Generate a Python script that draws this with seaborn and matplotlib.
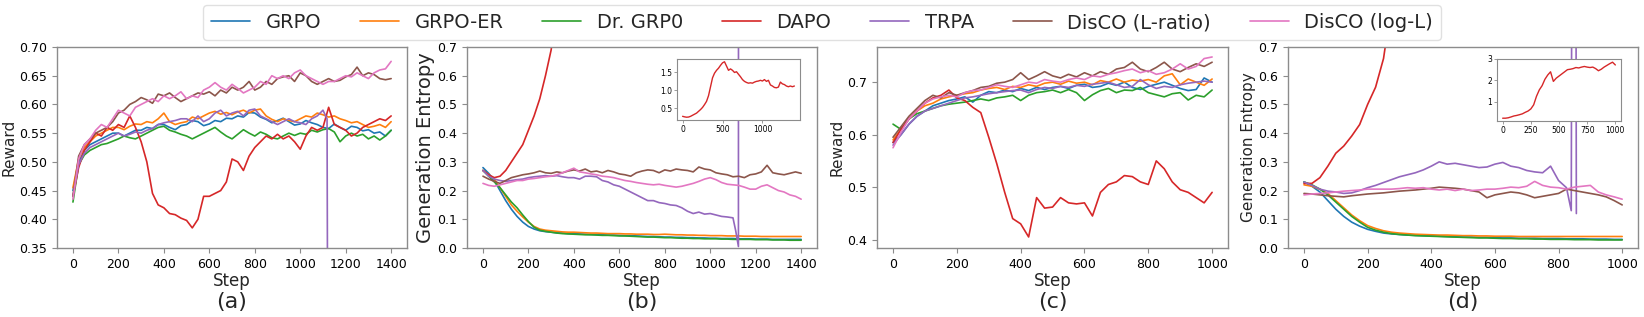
import numpy as np
import pandas as pd
import matplotlib
matplotlib.use("Agg")
import matplotlib.pyplot as plt
import seaborn as sns

# Data

methods = ["GRPO", "GRPO-ER", "Dr. GRP0", "DAPO", "TRPA", "DisCO (L-ratio)", "DisCO (log-L)"]
colors = ["#1f77b4", "#ff7f0e", "#2ca02c", "#d62728", "#9467bd", "#8c564b", "#e377c2"]

steps_1400 = list(range(0, 1401, 25))
steps_1000 = list(range(0, 1001, 25))

# (a) reward, 1400 steps
grpo_a = [0.450, 0.500, 0.520, 0.530, 0.535, 0.540, 0.545, 0.550, 0.550, 0.545, 0.550, 0.555,
          0.555, 0.560, 0.558, 0.565, 0.565, 0.560, 0.556, 0.563, 0.565, 0.572, 0.570, 0.563,
          0.566, 0.572, 0.570, 0.576, 0.575, 0.580, 0.578, 0.586, 0.585, 0.578, 0.574, 0.568,
          0.572, 0.576, 0.570, 0.564, 0.566, 0.572, 0.568, 0.565, 0.560, 0.558, 0.566, 0.560,
          0.555, 0.562, 0.560, 0.554, 0.556, 0.550, 0.552, 0.545, 0.555]
grpo_er_a = [0.455, 0.505, 0.525, 0.535, 0.545, 0.550, 0.555, 0.560, 0.560, 0.556, 0.562, 0.566,
             0.565, 0.570, 0.568, 0.575, 0.585, 0.570, 0.565, 0.568, 0.570, 0.578, 0.575, 0.580,
             0.585, 0.588, 0.583, 0.586, 0.582, 0.587, 0.590, 0.585, 0.590, 0.592, 0.580, 0.574,
             0.570, 0.575, 0.572, 0.570, 0.575, 0.580, 0.578, 0.585, 0.582, 0.578, 0.580, 0.575,
             0.572, 0.568, 0.570, 0.565, 0.560, 0.562, 0.565, 0.560, 0.570]
drgrpo_a = [0.430, 0.495, 0.512, 0.520, 0.525, 0.530, 0.532, 0.536, 0.540, 0.545, 0.542, 0.540,
            0.545, 0.550, 0.555, 0.560, 0.562, 0.555, 0.552, 0.548, 0.545, 0.540, 0.545, 0.550,
            0.555, 0.560, 0.552, 0.545, 0.540, 0.548, 0.556, 0.550, 0.545, 0.552, 0.548, 0.542,
            0.540, 0.545, 0.550, 0.546, 0.550, 0.548, 0.555, 0.552, 0.556, 0.558, 0.552, 0.535,
            0.545, 0.550, 0.545, 0.548, 0.540, 0.545, 0.538, 0.545, 0.555]
dapo_a = [0.440, 0.490, 0.520, 0.535, 0.550, 0.545, 0.560, 0.555, 0.565, 0.560, 0.580, 0.560,
          0.535, 0.500, 0.445, 0.425, 0.420, 0.410, 0.408, 0.402, 0.398, 0.385, 0.400, 0.440,
          0.440, 0.445, 0.450, 0.465, 0.505, 0.500, 0.485, 0.510, 0.525, 0.535, 0.545, 0.540,
          0.548, 0.540, 0.545, 0.535, 0.522, 0.545, 0.560, 0.555, 0.560, 0.595, 0.565, 0.560,
          0.555, 0.545, 0.550, 0.560, 0.565, 0.570, 0.575, 0.572, 0.580]
trpa_a_steps = list(range(0, 1101, 25)) + [1118, 1122]
trpa_a = [0.440, 0.495, 0.515, 0.525, 0.530, 0.535, 0.540, 0.545, 0.550, 0.545, 0.548, 0.552,
          0.550, 0.555, 0.558, 0.565, 0.568, 0.570, 0.572, 0.575, 0.575, 0.570, 0.580, 0.570,
          0.575, 0.585, 0.590, 0.580, 0.585, 0.588, 0.580, 0.590, 0.592, 0.580, 0.575, 0.570,
          0.565, 0.570, 0.575, 0.570, 0.568, 0.565, 0.575, 0.580, 0.590, 0.575, 0.0]
lratio_a = [0.440, 0.510, 0.530, 0.540, 0.550, 0.555, 0.560, 0.570, 0.585, 0.590, 0.600, 0.605,
            0.612, 0.608, 0.602, 0.618, 0.615, 0.620, 0.612, 0.605, 0.610, 0.615, 0.620, 0.618,
            0.622, 0.615, 0.625, 0.620, 0.630, 0.625, 0.630, 0.640, 0.625, 0.630, 0.640, 0.635,
            0.645, 0.648, 0.650, 0.640, 0.655, 0.650, 0.640, 0.635, 0.640, 0.645, 0.640, 0.642,
            0.648, 0.652, 0.665, 0.650, 0.655, 0.652, 0.645, 0.643, 0.645]
logl_a = [0.435, 0.505, 0.530, 0.540, 0.555, 0.565, 0.560, 0.575, 0.590, 0.585, 0.580, 0.595,
          0.600, 0.605, 0.610, 0.605, 0.615, 0.610, 0.615, 0.622, 0.610, 0.615, 0.612, 0.625,
          0.630, 0.638, 0.630, 0.625, 0.635, 0.628, 0.620, 0.625, 0.630, 0.640, 0.635, 0.650,
          0.645, 0.650, 0.645, 0.655, 0.660, 0.650, 0.645, 0.640, 0.635, 0.640, 0.640, 0.645,
          0.650, 0.648, 0.655, 0.650, 0.645, 0.655, 0.660, 0.662, 0.675]

# (b) entropy, 1400 steps
grpo_b = [0.280, 0.260, 0.235, 0.200, 0.165, 0.135, 0.110, 0.090, 0.075, 0.066, 0.060, 0.057,
          0.055, 0.053, 0.052, 0.050, 0.050, 0.049, 0.048, 0.047, 0.047, 0.046, 0.045, 0.045,
          0.044, 0.043, 0.043, 0.042, 0.041, 0.040, 0.040, 0.039, 0.038, 0.038, 0.037, 0.037,
          0.036, 0.036, 0.035, 0.035, 0.034, 0.034, 0.033, 0.033, 0.033, 0.032, 0.032, 0.032,
          0.031, 0.031, 0.031, 0.030, 0.030, 0.030, 0.030, 0.030, 0.030]
grpo_er_b = [0.270, 0.255, 0.240, 0.210, 0.180, 0.150, 0.128, 0.108, 0.090, 0.075, 0.066, 0.062,
             0.060, 0.058, 0.056, 0.055, 0.055, 0.054, 0.053, 0.052, 0.052, 0.051, 0.050, 0.050,
             0.050, 0.049, 0.049, 0.048, 0.048, 0.048, 0.047, 0.047, 0.048, 0.047, 0.046, 0.046,
             0.045, 0.045, 0.044, 0.044, 0.043, 0.043, 0.043, 0.042, 0.042, 0.042, 0.041, 0.041,
             0.041, 0.040, 0.040, 0.040, 0.040, 0.040, 0.040, 0.040, 0.040]
drgrpo_b = [0.270, 0.250, 0.230, 0.210, 0.185, 0.160, 0.140, 0.115, 0.092, 0.072, 0.062, 0.058,
            0.055, 0.052, 0.050, 0.049, 0.048, 0.047, 0.046, 0.046, 0.045, 0.044, 0.044, 0.043,
            0.042, 0.042, 0.041, 0.040, 0.039, 0.038, 0.038, 0.037, 0.036, 0.036, 0.035, 0.034,
            0.034, 0.033, 0.033, 0.032, 0.032, 0.032, 0.031, 0.031, 0.030, 0.030, 0.030, 0.030,
            0.029, 0.029, 0.029, 0.028, 0.028, 0.028, 0.027, 0.027, 0.027]
dapo_b = [0.270, 0.255, 0.245, 0.250, 0.270, 0.300, 0.330, 0.360, 0.410, 0.460, 0.520, 0.600,
          0.690, 0.850, 1.100, 1.350, 1.480, 1.560, 1.620, 1.700, 1.770, 1.800, 1.680, 1.560,
          1.600, 1.560, 1.500, 1.520, 1.450, 1.380, 1.300, 1.250, 1.220, 1.200, 1.210, 1.200,
          1.230, 1.250, 1.260, 1.280, 1.260, 1.300, 1.250, 1.280, 1.150, 1.120, 1.080, 1.070,
          1.090, 1.230, 1.180, 1.160, 1.120, 1.100, 1.120, 1.100, 1.120]
trpa_b_steps = list(range(0, 1101, 25)) + [1112, 1124, 1127]
trpa_b = [0.270, 0.250, 0.240, 0.235, 0.232, 0.235, 0.238, 0.240, 0.245, 0.248, 0.250, 0.252,
          0.250, 0.252, 0.248, 0.245, 0.245, 0.240, 0.250, 0.250, 0.248, 0.235, 0.230, 0.220,
          0.215, 0.205, 0.195, 0.185, 0.175, 0.165, 0.165, 0.158, 0.155, 0.150, 0.148, 0.140,
          0.128, 0.120, 0.125, 0.118, 0.120, 0.115, 0.110, 0.108, 0.105, 0.060, 0.005, 10.0]
lratio_b = [0.250, 0.240, 0.232, 0.225, 0.235, 0.245, 0.250, 0.255, 0.258, 0.262, 0.268, 0.262,
            0.260, 0.265, 0.262, 0.268, 0.272, 0.268, 0.275, 0.265, 0.268, 0.262, 0.270, 0.265,
            0.258, 0.255, 0.250, 0.262, 0.268, 0.272, 0.270, 0.262, 0.272, 0.268, 0.275, 0.272,
            0.270, 0.265, 0.282, 0.275, 0.272, 0.262, 0.258, 0.255, 0.248, 0.250, 0.245, 0.255,
            0.258, 0.265, 0.288, 0.262, 0.258, 0.255, 0.260, 0.265, 0.260]
logl_b = [0.225, 0.218, 0.215, 0.220, 0.225, 0.230, 0.235, 0.235, 0.240, 0.242, 0.245, 0.248,
          0.250, 0.255, 0.262, 0.270, 0.278, 0.265, 0.262, 0.258, 0.255, 0.250, 0.248, 0.245,
          0.240, 0.235, 0.232, 0.228, 0.225, 0.222, 0.220, 0.222, 0.218, 0.215, 0.212, 0.215,
          0.220, 0.225, 0.232, 0.240, 0.245, 0.238, 0.228, 0.222, 0.220, 0.218, 0.212, 0.205,
          0.205, 0.215, 0.220, 0.210, 0.200, 0.195, 0.185, 0.180, 0.170]

# (c) reward, 1000 steps
grpo_c = [0.585, 0.600, 0.620, 0.635, 0.645, 0.655, 0.660, 0.665, 0.668, 0.672, 0.662, 0.675,
          0.682, 0.680, 0.685, 0.682, 0.688, 0.684, 0.690, 0.686, 0.690, 0.692, 0.688, 0.694,
          0.696, 0.690, 0.692, 0.698, 0.694, 0.700, 0.690, 0.686, 0.692, 0.696, 0.700, 0.694,
          0.688, 0.684, 0.686, 0.708, 0.700]
grpo_er_c = [0.590, 0.610, 0.630, 0.645, 0.655, 0.660, 0.668, 0.672, 0.675, 0.678, 0.680, 0.685,
             0.688, 0.690, 0.686, 0.692, 0.690, 0.695, 0.692, 0.698, 0.700, 0.696, 0.702, 0.698,
             0.700, 0.695, 0.703, 0.700, 0.706, 0.700, 0.704, 0.702, 0.705, 0.700, 0.712, 0.716,
             0.695, 0.706, 0.700, 0.694, 0.706]
drgrpo_c = [0.620, 0.610, 0.630, 0.640, 0.645, 0.650, 0.655, 0.658, 0.660, 0.662, 0.665, 0.668,
            0.665, 0.670, 0.672, 0.675, 0.665, 0.675, 0.680, 0.682, 0.685, 0.680, 0.686, 0.680,
            0.665, 0.676, 0.684, 0.688, 0.680, 0.685, 0.684, 0.690, 0.680, 0.676, 0.672, 0.678,
            0.680, 0.666, 0.675, 0.672, 0.685]
dapo_c = [0.585, 0.610, 0.630, 0.645, 0.660, 0.670, 0.675, 0.685, 0.670, 0.665, 0.652, 0.642,
          0.595, 0.545, 0.490, 0.440, 0.430, 0.405, 0.480, 0.460, 0.462, 0.480, 0.470, 0.468,
          0.470, 0.445, 0.490, 0.505, 0.510, 0.522, 0.520, 0.510, 0.505, 0.550, 0.535, 0.510,
          0.495, 0.490, 0.480, 0.470, 0.490]
trpa_c = [0.580, 0.600, 0.620, 0.635, 0.645, 0.650, 0.655, 0.660, 0.665, 0.670, 0.672, 0.675,
          0.678, 0.680, 0.682, 0.684, 0.685, 0.680, 0.686, 0.690, 0.688, 0.692, 0.690, 0.694,
          0.692, 0.696, 0.698, 0.700, 0.695, 0.690, 0.692, 0.705, 0.695, 0.688, 0.692, 0.690,
          0.695, 0.698, 0.700, 0.702, 0.700]
lratio_c = [0.595, 0.615, 0.635, 0.650, 0.665, 0.675, 0.670, 0.680, 0.675, 0.680, 0.684, 0.690,
            0.692, 0.698, 0.700, 0.705, 0.718, 0.705, 0.712, 0.720, 0.712, 0.708, 0.715, 0.710,
            0.718, 0.712, 0.720, 0.715, 0.725, 0.728, 0.738, 0.725, 0.720, 0.728, 0.738, 0.725,
            0.720, 0.728, 0.735, 0.730, 0.738]
logl_c = [0.575, 0.605, 0.630, 0.645, 0.660, 0.668, 0.672, 0.675, 0.672, 0.680, 0.684, 0.685,
          0.690, 0.695, 0.692, 0.690, 0.695, 0.700, 0.698, 0.705, 0.702, 0.700, 0.705, 0.708,
          0.705, 0.712, 0.710, 0.715, 0.718, 0.722, 0.725, 0.718, 0.722, 0.715, 0.718, 0.725,
          0.735, 0.725, 0.730, 0.745, 0.748]

# (d) entropy, 1000 steps
grpo_d = [0.230, 0.215, 0.195, 0.165, 0.135, 0.110, 0.090, 0.076, 0.065, 0.058, 0.052, 0.049,
          0.047, 0.045, 0.044, 0.043, 0.042, 0.041, 0.040, 0.039, 0.038, 0.038, 0.037, 0.037,
          0.036, 0.035, 0.035, 0.034, 0.034, 0.034, 0.033, 0.033, 0.033, 0.032, 0.032, 0.032,
          0.031, 0.031, 0.031, 0.030, 0.030]
grpo_er_d = [0.220, 0.215, 0.205, 0.190, 0.165, 0.140, 0.115, 0.095, 0.078, 0.068, 0.060, 0.055,
             0.052, 0.050, 0.048, 0.047, 0.046, 0.045, 0.045, 0.044, 0.043, 0.043, 0.042, 0.042,
             0.041, 0.041, 0.041, 0.040, 0.040, 0.040, 0.040, 0.040, 0.040, 0.040, 0.040, 0.040,
             0.040, 0.040, 0.040, 0.040, 0.040]
drgrpo_d = [0.230, 0.220, 0.205, 0.185, 0.160, 0.135, 0.110, 0.090, 0.072, 0.062, 0.055, 0.050,
            0.047, 0.045, 0.043, 0.042, 0.041, 0.040, 0.039, 0.038, 0.037, 0.036, 0.035, 0.035,
            0.034, 0.033, 0.033, 0.032, 0.032, 0.031, 0.031, 0.030, 0.030, 0.030, 0.029, 0.029,
            0.029, 0.028, 0.028, 0.028, 0.028]
dapo_d = [0.225, 0.225, 0.245, 0.285, 0.330, 0.355, 0.390, 0.430, 0.500, 0.560, 0.660, 0.850,
          1.250, 1.550, 1.750, 2.050, 2.250, 2.400, 1.950, 2.100, 2.200, 2.300, 2.400, 2.500,
          2.520, 2.550, 2.600, 2.580, 2.620, 2.650, 2.620, 2.600, 2.620, 2.550, 2.450, 2.520,
          2.620, 2.700, 2.780, 2.850, 2.720]
trpa_d_steps = list(range(0, 826, 25)) + [840, 849, 856]
trpa_d = [0.230, 0.218, 0.205, 0.198, 0.195, 0.190, 0.192, 0.200, 0.210, 0.218, 0.228, 0.238,
          0.248, 0.255, 0.262, 0.272, 0.285, 0.300, 0.292, 0.295, 0.290, 0.285, 0.280, 0.282,
          0.292, 0.298, 0.285, 0.280, 0.270, 0.265, 0.262, 0.285, 0.235, 0.210, 0.130, 5.0, 0.120]
lratio_d = [0.190, 0.188, 0.185, 0.182, 0.180, 0.178, 0.182, 0.185, 0.188, 0.190, 0.192, 0.195,
            0.198, 0.200, 0.202, 0.205, 0.208, 0.212, 0.210, 0.208, 0.205, 0.200, 0.195, 0.175,
            0.185, 0.190, 0.195, 0.192, 0.185, 0.175, 0.180, 0.185, 0.190, 0.205, 0.200, 0.195,
            0.190, 0.185, 0.178, 0.165, 0.150]
logl_d = [0.185, 0.188, 0.190, 0.192, 0.195, 0.198, 0.200, 0.202, 0.205, 0.205, 0.205, 0.205,
          0.207, 0.210, 0.208, 0.210, 0.205, 0.202, 0.205, 0.200, 0.205, 0.200, 0.202, 0.205,
          0.205, 0.208, 0.212, 0.210, 0.215, 0.232, 0.218, 0.212, 0.210, 0.205, 0.212, 0.215,
          0.218, 0.195, 0.185, 0.178, 0.170]


def long_frame(series):
    rows = []
    for name, xs, ys in series:
        rows.append(pd.DataFrame({"Step": xs, "value": ys, "method": name}))
    return pd.concat(rows, ignore_index=True)


panel_a = long_frame([("GRPO", steps_1400, grpo_a), ("GRPO-ER", steps_1400, grpo_er_a),
                      ("Dr. GRP0", steps_1400, drgrpo_a), ("DAPO", steps_1400, dapo_a),
                      ("TRPA", trpa_a_steps, trpa_a), ("DisCO (L-ratio)", steps_1400, lratio_a),
                      ("DisCO (log-L)", steps_1400, logl_a)])
panel_b = long_frame([("GRPO", steps_1400, grpo_b), ("GRPO-ER", steps_1400, grpo_er_b),
                      ("Dr. GRP0", steps_1400, drgrpo_b), ("DAPO", steps_1400, dapo_b),
                      ("TRPA", trpa_b_steps, trpa_b), ("DisCO (L-ratio)", steps_1400, lratio_b),
                      ("DisCO (log-L)", steps_1400, logl_b)])
panel_c = long_frame([("GRPO", steps_1000, grpo_c), ("GRPO-ER", steps_1000, grpo_er_c),
                      ("Dr. GRP0", steps_1000, drgrpo_c), ("DAPO", steps_1000, dapo_c),
                      ("TRPA", steps_1000, trpa_c), ("DisCO (L-ratio)", steps_1000, lratio_c),
                      ("DisCO (log-L)", steps_1000, logl_c)])
panel_d = long_frame([("GRPO", steps_1000, grpo_d), ("GRPO-ER", steps_1000, grpo_er_d),
                      ("Dr. GRP0", steps_1000, drgrpo_d), ("DAPO", steps_1000, dapo_d),
                      ("TRPA", trpa_d_steps, trpa_d), ("DisCO (L-ratio)", steps_1000, lratio_d),
                      ("DisCO (log-L)", steps_1000, logl_d)])

# Plot

sns.set_style("ticks")
plt.rcParams["font.family"] = ["DejaVu Sans"]
plt.rcParams["axes.edgecolor"] = "0.55"
plt.rcParams["axes.linewidth"] = 1.0
plt.rcParams["xtick.color"] = "0.55"
plt.rcParams["ytick.color"] = "0.55"
plt.rcParams["xtick.labelcolor"] = "black"
plt.rcParams["ytick.labelcolor"] = "black"

palette = dict(zip(methods, colors))
fig = plt.figure(figsize=(16.44, 3.17), dpi=100)

boxes = [[0.0347, 0.2177, 0.2129, 0.634], [0.2841, 0.2177, 0.2129, 0.634],
         [0.5335, 0.2177, 0.2135, 0.634], [0.7835, 0.2177, 0.2129, 0.634]]
frames = [panel_a, panel_b, panel_c, panel_d]
ylabels = ["Reward", "Generation Entropy", "Reward", "Generation Entropy"]
ylabel_sizes = [11, 14, 11, 11]
ylims = [(0.35, 0.70), (0.0, 0.7), (0.384, 0.767), (0.0, 0.7)]
tags = ["(a)", "(b)", "(c)", "(d)"]

axes = []
for box, df, ylab, ysz, ylim, tag in zip(boxes, frames, ylabels, ylabel_sizes, ylims, tags):
    ax = fig.add_axes(box)
    sns.lineplot(data=df, x="Step", y="value", hue="method", hue_order=methods,
                 palette=palette, estimator=None, sort=False, linewidth=1.2, ax=ax, legend=False)
    ax.set_ylim(*ylim)
    ax.set_xlabel("Step", fontsize=12, labelpad=1)
    ax.set_ylabel(ylab, fontsize=ysz, labelpad=2)
    ax.tick_params(labelsize=9)
    ax.text(0.5, -0.27, tag, transform=ax.transAxes, ha="center", va="center", fontsize=16)
    axes.append(ax)

axes[0].set_yticks(np.arange(0.35, 0.701, 0.05))
axes[0].yaxis.set_major_formatter(matplotlib.ticker.FormatStrFormatter("%.2f"))
axes[2].set_yticks([0.4, 0.5, 0.6, 0.7])

# insets with the full DAPO entropy curve
inset_b = fig.add_axes([0.4118, 0.6215, 0.0748, 0.1924], zorder=5)
sns.lineplot(x=steps_1400, y=dapo_b, color=colors[3], linewidth=1.0, ax=inset_b)
inset_b.set_yticks([0.5, 1.0, 1.5])
inset_b.set_xticks([0, 500, 1000])

inset_d = fig.add_axes([0.9106, 0.6183, 0.0754, 0.1956], zorder=5)
sns.lineplot(x=steps_1000, y=dapo_d, color=colors[3], linewidth=1.0, ax=inset_d)
inset_d.set_yticks([1, 2, 3])
inset_d.set_xticks([0, 250, 500, 750, 1000])

for ins in (inset_b, inset_d):
    ins.set_facecolor("white")
    ins.patch.set_alpha(1.0)
    ins.tick_params(labelsize=5.5, length=2, width=0.6, pad=1.5)
    for sp in ins.spines.values():
        sp.set_linewidth(0.8)

handles = [matplotlib.lines.Line2D([], [], color=c, linewidth=1.2) for c in colors]
fig.legend(handles, methods, loc="center", bbox_to_anchor=(0.5, 0.929), ncol=7,
           fontsize=14, frameon=True, edgecolor="0.85")

fig.savefig("out.png", dpi=100)
